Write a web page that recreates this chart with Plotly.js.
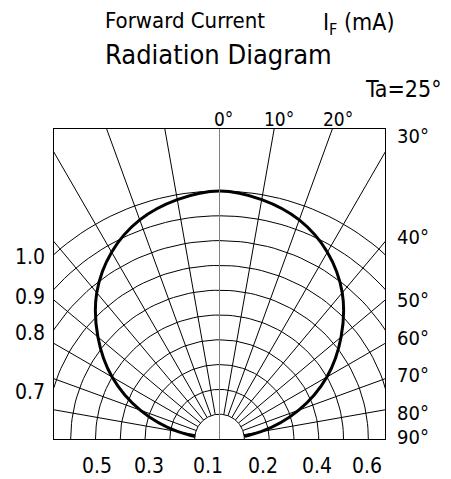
<!DOCTYPE html>
<html>
<head>
<meta charset="utf-8">
<script src="https://cdn.plot.ly/plotly-3.0.1.min.js"></script>
<style>
  html, body { margin: 0; padding: 0; background: #fff; }
  #chart { width: 451px; height: 479px; }
</style>
</head>
<body>
<div id="chart"></div>
<script>
// relative intensity, angle in degrees from the axis
const patternAngles = [-90, -80, -70, -60, -50, -40, -30, -20, -10, 0, 10, 20, 30, 40, 50, 60, 70, 80, 90];
const patternValues = [0.0, 0.17, 0.34, 0.5, 0.64, 0.77, 0.87, 0.94, 0.98, 1.0, 0.98, 0.94, 0.87, 0.77, 0.64, 0.5, 0.34, 0.17, 0.0];

// polar grid
const ringRadii = [0.1, 0.2, 0.3, 0.4, 0.5, 0.6, 0.7, 0.8, 0.9, 1.0];
const spokeAngles = [-80, -70, -60, -50, -40, -30, -20, -10, 10, 20, 30, 40, 50, 60, 70, 80];

// labels
const topAngleLabels = ['0°', '10°', '20°'];
const sideAngleLabels = ['30°', '40°', '50°', '60°', '70°', '80°', '90°'];
const leftScaleLabels = ['1.0', '0.9', '0.8', '0.7'];
const bottomScaleLabels = ['0.5', '0.3', '0.1', '0.2', '0.4', '0.6'];

const FONT = 'DejaVu Sans Condensed, Liberation Sans Narrow, sans-serif';
const GRID = '#000';

function toXY(r, deg) {
    const a = deg * Math.PI / 180;
    return [r * Math.sin(a), r * Math.cos(a)];
}

function arc(r) {
    const x = [], y = [];
    for (let d = -90; d <= 90; d += 2) {
        const p = toXY(r, d);
        x.push(p[0]);
        y.push(p[1]);
    }
    return { x, y };
}

const traces = [];

ringRadii.slice(1).forEach(r => {
    const a = arc(r);
    traces.push({ x: a.x, y: a.y, mode: 'lines', line: { color: GRID, width: 1 }, hoverinfo: 'skip' });
});

spokeAngles.forEach(d => {
    const p0 = toXY(ringRadii[0], d);
    const p1 = toXY(3, d);
    traces.push({ x: [p0[0], p1[0]], y: [p0[1], p1[1]], mode: 'lines', line: { color: GRID, width: 1 }, hoverinfo: 'skip' });
});

// radiation pattern
const px = [], py = [];
patternAngles.forEach((d, i) => {
    const p = toXY(patternValues[i], d);
    px.push(p[0]);
    py.push(p[1]);
});
traces.push({ x: px, y: py, mode: 'lines', line: { color: '#000', width: 3, shape: 'spline', smoothing: 1 }, hoverinfo: 'skip' });

// white inner half disc
const inner = arc(ringRadii[0]);
traces.push({ x: inner.x, y: inner.y, mode: 'lines', fill: 'toself', fillcolor: '#fff', line: { color: GRID, width: 1 }, hoverinfo: 'skip' });

// 0 degree axis
traces.push({ x: [0, 0], y: [0, 3], mode: 'lines', line: { color: '#808080', width: 1 }, hoverinfo: 'skip' });

// pixel positions -> paper units (plot box 54..385 x 129..439)
const PX = v => (v - 54) / 331;
const PY = v => (439 - v) / 310;

const annotations = [];
function label(text, x, y, size, xanchor) {
    annotations.push({
        text: text, x: PX(x), y: PY(y), xref: 'paper', yref: 'paper',
        xanchor: xanchor || 'center', yanchor: 'middle', showarrow: false,
        font: { family: FONT, size: size, color: '#000' }
    });
}

label('Forward Current', 103, 20, 22, 'left');
label('I<sub>F</sub> (mA)', 358, 24, 23);
label('Radiation Diagram', 103, 55, 27, 'left');
label('Ta=25°', 403, 89, 23);

const topX = [223, 279, 338];
topAngleLabels.forEach((t, i) => label(t, topX[i], 119, 19));

const sideY = [136, 237, 300, 338, 375, 413, 437];
sideAngleLabels.forEach((t, i) => label(t, 395, sideY[i], 20, 'left'));

const leftY = [257, 297, 333, 392];
leftScaleLabels.forEach((t, i) => label(t, 30, leftY[i], 21));

const bottomX = [97, 149, 208, 263, 317, 367];
bottomScaleLabels.forEach((t, i) => label(t, bottomX[i], 466, 21));

const axisStyle = {
    showgrid: false, zeroline: false, showticklabels: false, ticks: '',
    showline: true, mirror: true, linecolor: '#000', linewidth: 1, fixedrange: true
};

const layout = {
    width: 451,
    height: 479,
    margin: { l: 54, r: 66, t: 129, b: 40 },
    paper_bgcolor: '#fff',
    plot_bgcolor: '#fff',
    showlegend: false,
    xaxis: Object.assign({ range: [-165.5 / 248, 165.5 / 248] }, axisStyle),
    yaxis: Object.assign({ range: [0, 310 / 248] }, axisStyle),
    annotations: annotations
};

Plotly.newPlot('chart', traces, layout, { displayModeBar: false, staticPlot: true });
</script>
</body>
</html>
